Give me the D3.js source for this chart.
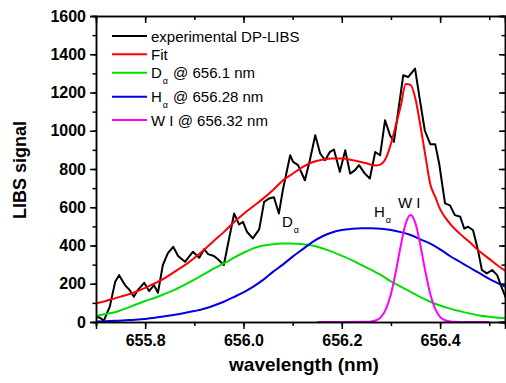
<!DOCTYPE html>
<html>
<head>
<meta charset="utf-8">
<script src="https://cdn.jsdelivr.net/npm/d3@7"></script>
<style>
  body { margin: 0; background: #fff; }
  text { font-family: "Liberation Sans", Arial, sans-serif; }
</style>
</head>
<body>
<div id="chart"></div>
<script>
// experimental DP-LIBS spectrum
var expWl = [655.700, 655.708, 655.716, 655.728, 655.739, 655.747, 655.759, 655.769, 655.777, 655.785,
  655.798, 655.808, 655.818, 655.826, 655.836, 655.846, 655.857, 655.867, 655.881, 655.897,
  655.910, 655.920, 655.928, 655.940, 655.948, 655.960, 655.981, 655.991, 655.999, 656.007,
  656.019, 656.032, 656.042, 656.052, 656.062, 656.072, 656.080, 656.095, 656.101, 656.111,
  656.125, 656.135, 656.146, 656.156, 656.166, 656.176, 656.184, 656.196, 656.207, 656.217,
  656.227, 656.235, 656.247, 656.257, 656.268, 656.278, 656.288, 656.298, 656.306, 656.325,
  656.335, 656.349, 656.359, 656.369, 656.380, 656.390, 656.398, 656.410, 656.420, 656.430,
  656.441, 656.449, 656.457, 656.467, 656.477, 656.485, 656.495, 656.506, 656.516, 656.526, 656.534];
var expSignal = [28, 22, 7, 80, 210, 245, 193, 165, 132, 167,
  205, 162, 193, 153, 298, 359, 393, 345, 315, 367,
  336, 381, 355, 345, 328, 298, 567, 510, 524, 472,
  437, 484, 628, 646, 652, 567, 689, 872, 837, 820,
  741, 846, 977, 881, 846, 890, 902, 785, 898, 776,
  794, 820, 776, 750, 889, 872, 1055, 977, 942, 1290,
  1281, 1325, 1159, 1000, 930, 930, 830, 620, 610, 559,
  550, 489, 498, 480, 376, 272, 254, 272, 245, 176, 124];

// fit
var fitWl = [655.70, 655.72, 655.74, 655.76, 655.78, 655.80, 655.82, 655.84, 655.86, 655.88,
  655.90, 655.92, 655.94, 655.96, 655.98, 656.00, 656.02, 656.04, 656.06, 656.08,
  656.10, 656.12, 656.14, 656.16, 656.18, 656.20, 656.22, 656.24, 656.25, 656.26,
  656.27, 656.28, 656.29, 656.30, 656.31, 656.32, 656.33, 656.34, 656.35, 656.36,
  656.37, 656.38, 656.39, 656.40, 656.42, 656.44, 656.46, 656.48, 656.50, 656.52, 656.54];
var fitSignal = [97, 110, 125, 140, 157, 178, 203, 230, 263, 296,
  335, 378, 425, 470, 520, 565, 605, 645, 690, 740,
  775, 810, 835, 848, 855, 855, 847, 836, 830, 822,
  818, 825, 858, 932, 1030, 1130, 1245, 1240, 1165, 1025,
  870, 720, 655, 590, 515, 462, 418, 370, 330, 290, 255];

// D alpha and H alpha components
var compWl = [655.70, 655.72, 655.74, 655.76, 655.78, 655.80, 655.82, 655.84, 655.86, 655.88,
  655.90, 655.92, 655.94, 655.96, 655.98, 656.00, 656.02, 656.04, 656.06, 656.08,
  656.10, 656.12, 656.14, 656.16, 656.18, 656.20, 656.22, 656.24, 656.26, 656.28,
  656.30, 656.32, 656.34, 656.36, 656.38, 656.40, 656.42, 656.44, 656.46, 656.48,
  656.50, 656.52, 656.54];
var dAlpha = [33, 42, 52, 70, 90, 110, 127, 147, 168, 194,
  222, 250, 280, 306, 335, 362, 385, 400, 407, 410,
  411, 407, 400, 386, 368, 346, 324, 298, 272, 245,
  212, 185, 158, 130, 106, 86, 70, 57, 45, 34,
  27, 22, 18];
var hAlpha = [2, 4, 6, 9, 12, 16, 22, 30, 38, 47,
  57, 69, 86, 106, 130, 155, 185, 220, 262, 300,
  342, 380, 418, 447, 468, 481, 487, 490, 490, 488,
  481, 470, 455, 432, 410, 380, 345, 315, 285, 255,
  225, 200, 175];

// W I component
var wWl = [656.15, 656.20, 656.25, 656.26, 656.27, 656.28, 656.29, 656.30, 656.31, 656.32,
  656.33, 656.34, 656.35, 656.36, 656.37, 656.38, 656.39, 656.40, 656.41, 656.42,
  656.43, 656.45, 656.50];
var wI = [0, 0, 1, 3, 9, 27, 69, 147, 264, 400,
  515, 560, 515, 400, 264, 147, 69, 27, 9, 3,
  1, 0, 0];

var legendLabels = ["experimental DP-LIBS", "Fit", "D", "H", "W I @ 656.32 nm"];
var legendSubs = ["", "", "\u03b1", "\u03b1", ""];
var legendTails = ["", "", "@ 656.1 nm", "@ 656.28 nm", ""];
var legendColors = ["#000000", "#ff0000", "#00e000", "#0000e0", "#ff00ff"];

var xTicks = [655.8, 656.0, 656.2, 656.4];
var yTicks = [0, 200, 400, 600, 800, 1000, 1200, 1400, 1600];

var width = 506,
  height = 383;
var margin = {left: 96, right: 1, top: 16, bottom: 61};

var svg = d3.select("#chart")
  .append("svg")
  .attr("width", width)
  .attr("height", height);

var x = d3.scaleLinear()
  .domain([655.7, 656.532])
  .range([margin.left, width - margin.right]);
var y = d3.scaleLinear()
  .domain([0, 1600])
  .range([height - margin.bottom, margin.top]);

svg.append("clipPath").attr("id", "plot")
  .append("rect")
  .attr("x", margin.left).attr("y", margin.top - 2)
  .attr("width", width - margin.right - margin.left)
  .attr("height", height - margin.bottom - margin.top + 2);

var plot = svg.append("g").attr("clip-path", "url(#plot)");

function series(xs, ys, color, curve) {
  var line = d3.line()
    .x(function(d, i){ return x(xs[i]); })
    .y(function(d){ return y(d); })
    .curve(curve);
  plot.append("path")
    .datum(ys)
    .attr("fill", "none")
    .attr("stroke", color)
    .attr("stroke-width", 2)
    .attr("stroke-linejoin", "round")
    .attr("d", line);
}

series(expWl, expSignal, legendColors[0], d3.curveLinear);
series(fitWl, fitSignal, legendColors[1], d3.curveMonotoneX);
series(compWl, dAlpha, legendColors[2], d3.curveMonotoneX);
series(compWl, hAlpha, legendColors[3], d3.curveMonotoneX);
series(wWl, wI, legendColors[4], d3.curveMonotoneX);

// axes
var xMinor = d3.range(655.7, 656.55, 0.1);
var yMinor = d3.range(0, 1601, 100);

function styleAxis(g) {
  g.select(".domain").attr("stroke", "#000").attr("stroke-width", 1.5);
  g.selectAll(".tick line").attr("stroke", "#000").attr("stroke-width", 1.5);
  g.selectAll(".tick text")
    .attr("font-size", 16)
    .attr("font-weight", "bold")
    .attr("fill", "#000");
}

var bottom = height - margin.bottom,
  right = width - margin.right;

svg.append("g")
  .attr("transform", "translate(0," + bottom + ")")
  .call(d3.axisBottom(x).tickValues(xMinor).tickSize(4).tickFormat(""))
  .call(styleAxis);
svg.append("g")
  .attr("transform", "translate(0," + bottom + ")")
  .call(d3.axisBottom(x).tickValues(xTicks).tickSize(7).tickPadding(6).tickFormat(d3.format(".1f")))
  .call(styleAxis);

svg.append("g")
  .attr("transform", "translate(0," + margin.top + ")")
  .call(d3.axisBottom(x).tickValues(xMinor).tickSize(4).tickFormat(""))
  .call(styleAxis);
svg.append("g")
  .attr("transform", "translate(0," + margin.top + ")")
  .call(d3.axisBottom(x).tickValues(xTicks).tickSize(7).tickFormat(""))
  .call(styleAxis);

svg.append("g")
  .attr("transform", "translate(" + margin.left + ",0)")
  .call(d3.axisLeft(y).tickValues(yMinor).tickSize(3.5).tickFormat(""))
  .call(styleAxis);
svg.append("g")
  .attr("transform", "translate(" + margin.left + ",0)")
  .call(d3.axisLeft(y).tickValues(yTicks).tickSize(6).tickPadding(4).tickFormat(d3.format("d")))
  .call(styleAxis);

svg.append("g")
  .attr("transform", "translate(" + right + ",0)")
  .call(d3.axisLeft(y).tickValues(yMinor).tickSize(3.5).tickFormat(""))
  .call(styleAxis);
svg.append("g")
  .attr("transform", "translate(" + right + ",0)")
  .call(d3.axisLeft(y).tickValues(yTicks).tickSize(6).tickFormat(""))
  .call(styleAxis);

// axis titles
svg.append("text")
  .attr("x", 304).attr("y", 371)
  .attr("text-anchor", "middle")
  .attr("font-size", 19).attr("font-weight", "bold")
  .text("wavelength (nm)");
svg.append("text")
  .attr("transform", "translate(26,170) rotate(-90)")
  .attr("text-anchor", "middle")
  .attr("font-size", 18).attr("font-weight", "bold")
  .text("LIBS signal");

// legend
var legendY = [36, 54.3, 72.7, 96.7, 120];
var legend = svg.append("g");
legendLabels.forEach(function(lab, i){
  legend.append("line")
    .attr("x1", 112).attr("x2", 147)
    .attr("y1", legendY[i]).attr("y2", legendY[i])
    .attr("stroke", legendColors[i]).attr("stroke-width", 2);
  var t = legend.append("text")
    .attr("x", 151).attr("y", legendY[i] + 5.5)
    .attr("font-size", 15);
  t.append("tspan").text(lab);
  if (legendSubs[i]) {
    t.append("tspan").attr("font-size", 9).attr("dx", 1).attr("dy", 6).text(legendSubs[i]);
    t.append("tspan").attr("dx", 5).attr("dy", -6).text(legendTails[i]);
  }
});

// peak labels
function peakLabel(px, py, main, sub) {
  var t = svg.append("text").attr("x", px).attr("y", py).attr("font-size", 15);
  t.append("tspan").text(main);
  if (sub) t.append("tspan").attr("font-size", 9).attr("dx", 1).attr("dy", 6).text(sub);
}
peakLabel(282, 226.5, "D", "\u03b1");
peakLabel(374, 216.5, "H", "\u03b1");
peakLabel(398, 207.5, "W I", "");
</script>
</body>
</html>
